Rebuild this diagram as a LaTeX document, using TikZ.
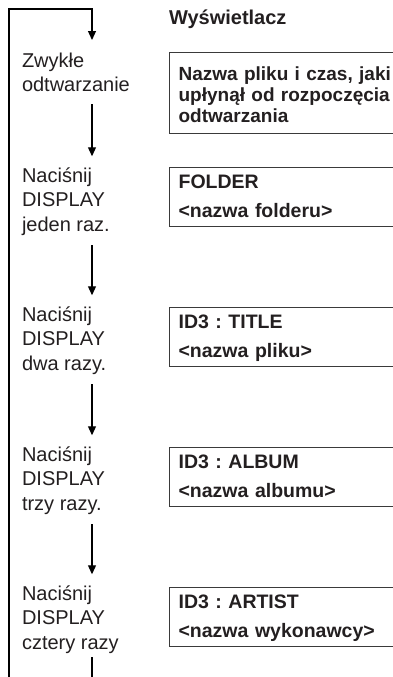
\documentclass[tikz,border=0pt]{standalone}
\usepackage{fontspec}
\setmainfont{Liberation Sans}
\usetikzlibrary{arrows.meta,calc}
\definecolor{txt}{HTML}{231F20}
\definecolor{boxc}{HTML}{3A3A3A}
\begin{document}
\begin{tikzpicture}[x=1pt,y=-1pt,
  lbl/.style={anchor=base west, align=left, inner sep=0pt, outer sep=0pt,
    font=\frenchspacing\fontsize{20}{24.5}\selectfont, text=txt},
  hdr/.style={anchor=base west, inner sep=0pt, outer sep=0pt,
    font=\frenchspacing\bfseries\fontsize{20}{24}\selectfont, text=txt},
  disp/.style={draw=boxc, line width=1.2pt, anchor=north west, inner xsep=9pt,
    inner ysep=0pt, text width=240pt, align=left,
    font=\frenchspacing\bfseries\fontsize{19.5}{29}\selectfont, text=txt},
  ln/.style={line width=1.2pt, draw=black},
  arr/.style={ln, -{Triangle[length=9pt,width=8pt]}},
  stepar/.style={arr, shorten <=10pt, shorten >=11pt}]
\path[use as bounding box] (0,0) rectangle (393,677);
\clip (0,0) rectangle (393,677);
\coordinate (ax) at (92,0);
\coordinate (top) at (9,9);
\coordinate (bot) at (9,690);
\coordinate (end) at (92,690);

\node[hdr] (h) at (169,25) {Wyświetlacz};

\node[lbl] (z)  at (22,92)  {Zwykłe\\odtwarzanie};
\node[lbl] (n1) at (22,231) {Naciśnij\\DISPLAY\\jeden raz.};
\node[lbl] (n2) at (22,370) {Naciśnij\\DISPLAY\\dwa razy.};
\node[lbl] (n3) at (22,510) {Naciśnij\\DISPLAY\\trzy razy.};
\node[lbl] (n4) at (22,649) {Naciśnij\\DISPLAY\\cztery razy};

\node[disp, font=\frenchspacing\bfseries\fontsize{19}{21}\selectfont] (d0) at (169,52)
  {\rule{0pt}{28pt}Nazwa pliku i czas, jaki\\upłynął od rozpoczęcia\\odtwarzania\rule[-11pt]{0pt}{11pt}};
\node[disp] (d1) at (169,167) {\rule{0pt}{21pt}FOLDER\\<nazwa folderu>\rule[-9pt]{0pt}{9pt}};
\node[disp] (d2) at (169,307) {\rule{0pt}{21pt}ID3 : TITLE\\<nazwa pliku>\rule[-9pt]{0pt}{9pt}};
\node[disp] (d3) at (169,447) {\rule{0pt}{21pt}ID3 : ALBUM\\<nazwa albumu>\rule[-9pt]{0pt}{9pt}};
\node[disp] (d4) at (169,587) {\rule{0pt}{21pt}ID3 : ARTIST\\<nazwa wykonawcy>\rule[-9pt]{0pt}{9pt}};

\draw[arr, shorten >=13pt] (bot) -- (top) -| (z.north -| ax);
\draw[stepar, shorten <=12pt] (z.south -| ax) -- (n1.north -| ax);
\draw[stepar] (n1.south -| ax) -- (n2.north -| ax);
\draw[stepar] (n2.south -| ax) -- (n3.north -| ax);
\draw[stepar] (n3.south -| ax) -- (n4.north -| ax);
\draw[ln, shorten <=4pt] (n4.south -| ax) -- (end);
\end{tikzpicture}
\end{document}
